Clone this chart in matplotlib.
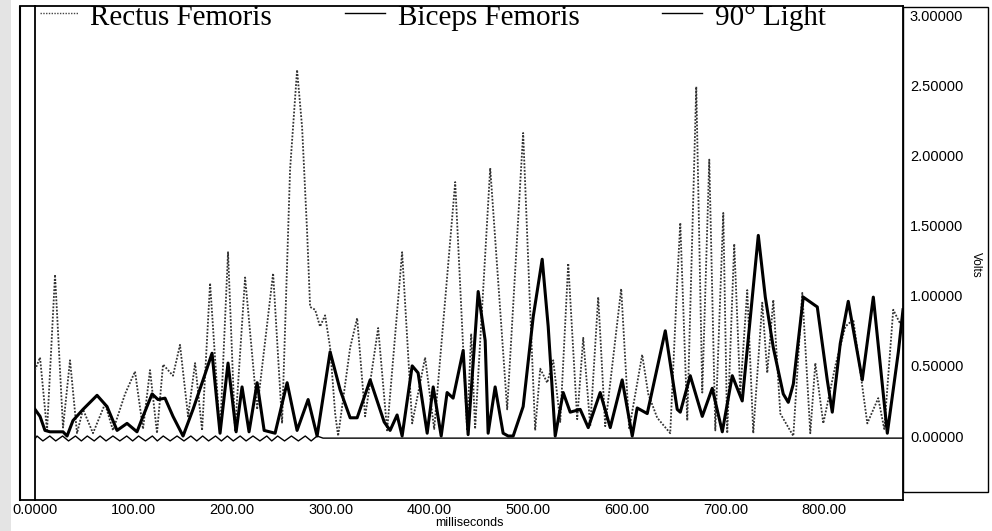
import matplotlib
matplotlib.use("Agg")
import matplotlib.pyplot as plt
from matplotlib.lines import Line2D
from matplotlib.patches import Rectangle

# Rectus Femoris (dotted trace), time in ms, volts
rectus_ms = [0, 5.1, 12.2, 20.3, 28.4, 35.5, 42.6, 48.7, 58.8, 71.0, 79.1, 91.3, 101.4,
             109.5, 116.6, 123.7, 129.8, 139.9, 147.0, 155.2, 162.3, 169.4, 177.5, 187.6,
             195.7, 202.8, 213.0, 225.2, 241.4, 250.5, 258.6, 265.7, 270.8, 275.9, 278.9,
             284.0, 289.0, 294.1, 299.2, 304.3, 307.3, 319.5, 326.6, 334.7, 347.9, 357.0,
             372.2, 382.4, 395.5, 404.7, 426.0, 438.1, 442.2, 446.2, 461.5, 478.7, 494.9,
             502.0, 507.1, 512.2, 519.3, 525.4, 532.5, 540.6, 549.7, 555.8, 562.9, 571.0,
             578.1, 594.3, 602.4, 615.6, 621.7, 630.8, 644.0, 651.1, 654.2, 661.3, 670.4,
             676.5, 683.6, 689.7, 697.8, 701.8, 708.9, 715.0, 722.1, 728.2, 737.3, 742.4,
             748.5, 755.6, 768.8, 777.9, 786.0, 791.1, 799.2, 811.4, 821.5, 829.6, 843.8,
             854.9, 861.0, 870.1, 877.2, 880]
rectus_v = [0.47, 0.56, 0.04, 1.15, 0.06, 0.54, 0.02, 0.19, 0.02, 0.23, 0.04, 0.30, 0.46,
            0.05, 0.47, 0.02, 0.51, 0.43, 0.65, 0.14, 0.52, 0.04, 1.09, 0.02,
            1.31, 0.04, 1.13, 0.19, 1.16, 0.09, 1.90, 2.61, 2.20, 1.45, 0.92,
            0.90, 0.78, 0.86, 0.63, 0.16, 0.00, 0.63, 0.84, 0.14, 0.77, 0.04,
            1.31, 0.09, 0.56, 0.05, 1.81, 0.04, 0.73, 0.05, 1.91, 0.19, 2.16,
            0.90, 0.04, 0.48, 0.38, 0.54, 0.10, 1.23, 0.12, 0.70, 0.07, 0.99,
            0.07, 1.05, 0.05, 0.58, 0.30, 0.13, 0.02, 1.10, 1.52, 0.11, 2.49,
            0.31, 1.97, 0.04, 1.59, 0.02, 1.37, 0.31, 1.04, 0.02, 0.95, 0.45,
            0.97, 0.16, 0.00, 1.02, 0.02, 0.52, 0.09, 0.50, 0.78, 0.83, 0.09,
            0.27, 0.05, 0.90, 0.80, 0.85]

# Biceps Femoris (thick trace)
biceps_ms = [0, 5.1, 10.1, 15.2, 28.4, 32.5, 38.5, 48.7, 62.9, 73.0, 83.2, 93.3, 103.4,
             109.5, 118.7, 124.7, 131.8, 139.9, 150.1, 160.2, 170.4, 179.5, 187.6, 195.7,
             203.9, 209.9, 217.0, 225.2, 232.3, 243.4, 255.6, 265.7, 276.9, 286.0, 299.2,
             309.3, 319.5, 326.6, 339.8, 354.0, 360.0, 367.1, 372.2, 382.4, 388.4, 397.6,
             403.7, 411.8, 417.8, 423.9, 434.1, 439.1, 449.3, 456.4, 459.4, 466.5, 474.6,
             479.7, 484.8, 494.9, 505.1, 514.2, 520.3, 527.4, 535.5, 542.6, 552.7, 560.9,
             573.0, 583.2, 595.3, 605.5, 610.5, 620.7, 639.0, 651.1, 654.2, 664.3, 676.5,
             686.6, 696.8, 706.9, 717.0, 733.3, 740.4, 748.5, 758.6, 763.7, 768.8, 778.9,
             793.1, 803.2, 808.3, 816.4, 824.5, 838.7, 849.9, 864.1, 875.3, 880]
biceps_v = [0.19, 0.14, 0.04, 0.03, 0.03, 0.00, 0.11, 0.19, 0.29, 0.21, 0.04, 0.09, 0.03,
            0.14, 0.30, 0.26, 0.27, 0.14, 0.00, 0.19, 0.40, 0.59, 0.02, 0.52,
            0.03, 0.35, 0.03, 0.38, 0.04, 0.02, 0.38, 0.04, 0.26, 0.00, 0.60,
            0.33, 0.13, 0.13, 0.40, 0.10, 0.04, 0.15, 0.00, 0.50, 0.45, 0.02,
            0.35, 0.00, 0.31, 0.27, 0.61, 0.01, 1.03, 0.68, 0.02, 0.35, 0.02,
            0.00, 0.00, 0.21, 0.85, 1.26, 0.78, 0.00, 0.31, 0.17, 0.19, 0.06,
            0.31, 0.06, 0.40, 0.00, 0.20, 0.16, 0.75, 0.19, 0.17, 0.43, 0.14,
            0.34, 0.03, 0.43, 0.25, 1.43, 0.99, 0.63, 0.30, 0.24, 0.37, 0.99,
            0.92, 0.40, 0.17, 0.66, 0.96, 0.40, 0.99, 0.02, 0.60, 0.90]

# 90 deg Light (thin trace near zero)
light_ms = [0, 2, 8, 15, 21, 28, 34, 41, 47, 53, 60, 66, 72, 79, 86, 93, 99, 105, 112,
            119, 124, 130, 137, 144, 151, 158, 164, 170, 176, 183, 189, 195, 201, 208,
            214, 221, 228, 235, 240, 246, 253, 260, 267, 274, 280, 286, 292, 880]
light_v = [-0.02, 0.0, -0.035, 0.0, -0.035, 0.0, -0.035, 0.0, -0.035, 0.0, -0.035, 0.0,
           -0.035, 0.0, -0.035, 0.0, -0.035, 0.0, -0.035, 0.0, -0.035, 0.0, -0.035, 0.0,
           -0.035, 0.0, -0.035, 0.0, -0.035, 0.0, -0.035, 0.0, -0.035, 0.0, -0.035, 0.0,
           -0.035, 0.0, -0.035, 0.0, -0.035, 0.0, -0.035, 0.0, -0.035, 0.0, -0.015, -0.015]

x_ticks = [0, 100, 200, 300, 400, 500, 600, 700, 800]
x_labels = ["0.0000", "100.00", "200.00", "300.00", "400.00", "500.00", "600.00",
            "700.00", "800.00"]
y_ticks = [0.0, 0.5, 1.0, 1.5, 2.0, 2.5, 3.0]

W, H = 992, 531
fig = plt.figure(figsize=(W / 100, H / 100), dpi=100)

# scanned grey strip on the far left
fig.add_artist(Rectangle((0, 0), 11 / W, 1, transform=fig.transFigure,
                         facecolor="#e4e4e4", edgecolor="none", zorder=-5))

ax = fig.add_axes([35 / W, 1 - 500 / H, 868 / W, 494 / H])
ax.plot(light_ms, light_v, color="black", lw=1.0, zorder=2)
ax.plot(rectus_ms, rectus_v, color="#333333", lw=1.3, ls=(0, (1, 0.9)), zorder=3)
ax.plot(biceps_ms, biceps_v, color="black", lw=2.2, zorder=4)

ax.set_xlim(0, 880)
ax.set_ylim(-0.456, 3.065)
ax.set_xticks(x_ticks)
ax.set_xticklabels(x_labels, fontsize=10.5, family="Liberation Sans")
ax.set_yticks(y_ticks)
ax.set_yticklabels(["%.5f" % v for v in y_ticks], fontsize=10.5, family="Liberation Sans")
ax.yaxis.tick_right()
ax.tick_params(length=0, pad=2)
ax.tick_params(axis="y", pad=5)
for sp in ax.spines.values():
    sp.set_linewidth(1.3)
ax.set_xlabel("milliseconds", fontsize=9, family="Liberation Sans", labelpad=0)

# outer frame on the left and the right-hand label box
fig.add_artist(Line2D([20 / W, 20 / W], [1 - 500 / H, 1 - 7 / H], transform=fig.transFigure,
                      color="black", lw=1.5))
fig.add_artist(Line2D([20 / W, 35 / W], [1 - 6 / H, 1 - 6 / H], transform=fig.transFigure,
                      color="black", lw=1.3))
fig.add_artist(Line2D([20 / W, 35 / W], [1 - 500 / H, 1 - 500 / H], transform=fig.transFigure,
                      color="black", lw=1.3))
fig.add_artist(Rectangle((903 / W, 1 - 492 / H), 85 / W, 485 / H, transform=fig.transFigure,
                         facecolor="none", edgecolor="black", lw=1.0))
fig.text(976 / W, 1 - 265 / H, "Volts", rotation=270, fontsize=8.5, family="Liberation Sans",
         ha="center", va="center")

# legend along the top edge
ly = 1 - 13 / H
ty = 1 - 25 / H
fig.add_artist(Line2D([40 / W, 78 / W], [ly, ly], transform=fig.transFigure,
                      color="#444444", lw=1.0, ls=(0, (1, 1))))
fig.text(90 / W, ty, "Rectus Femoris", fontsize=21, family="Liberation Serif", va="baseline")
fig.add_artist(Line2D([345 / W, 385 / W], [ly, ly], transform=fig.transFigure,
                      color="black", lw=1.0))
fig.text(398 / W, ty, "Biceps Femoris", fontsize=21, family="Liberation Serif", va="baseline")
fig.add_artist(Line2D([662 / W, 702 / W], [ly, ly], transform=fig.transFigure,
                      color="black", lw=1.0))
fig.text(715 / W, ty, "90° Light", fontsize=21, family="Liberation Serif", va="baseline")

fig.savefig("out.png", dpi=100)
